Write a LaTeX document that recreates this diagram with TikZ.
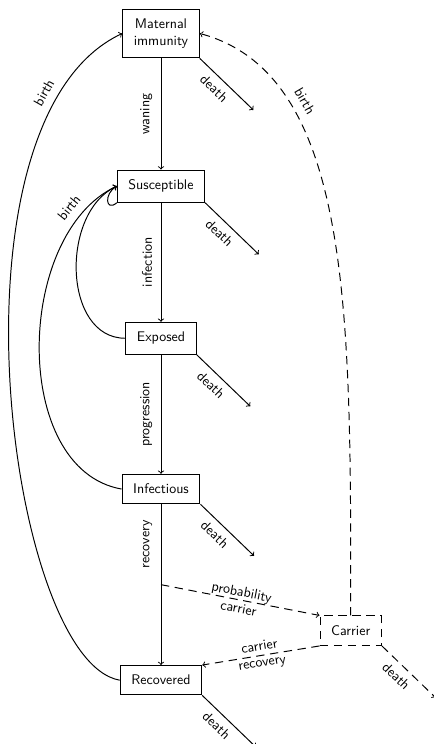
\documentclass[tikz,border=0pt]{standalone}
\usetikzlibrary{positioning}
\begin{document}
\begin{tikzpicture}[node distance=3cm, line width=0.7pt, every node/.style={font=\sffamily},
  box/.style={draw, align=center, inner xsep=8pt, inner ysep=7pt},
  dashline/.style={dash pattern=on 6pt off 4pt},
  rate/.style={inner sep=6pt},
  dead/.style={inner sep=4.5pt, pos=0.42, below, sloped}]
\useasboundingbox (-4.056,0.844) rectangle (6.853,-17.90);
\node[box] (mat) at (0,0) {Maternal\\immunity};
\node[box, below=2.8cm of mat] (sus) {Susceptible};
\node[box, below=of sus] (exp) {Exposed};
\node[box, below=of exp] (inf) {Infectious};
\node[box, below=4.05cm of inf] (rec) {Recovered};
\node[box, dashline, below right=2.8cm and 3cm of inf] (car) {Carrier};
% where the dead go
\coordinate[below right=1.3cm and 1.35cm of mat.south east] (matdead);
\coordinate[below right=1.3cm and 1.35cm of sus.south east] (susdead);
\coordinate[below right=1.3cm and 1.35cm of exp.south east] (expdead);
\coordinate[below right=1.3cm and 1.35cm of inf.south east] (infdead);
\coordinate[below right=1.3cm and 1.35cm of rec.south east] (recdead);
\coordinate[below right=1.3cm and 1.35cm of car.south east] (cardead);
% main chain
\draw[->] (mat) -- node[rate, midway, anchor=south, rotate=90]{waning} (sus);
\draw[->] (sus) -- node[rate, midway, anchor=south, rotate=90]{infection} (exp);
\draw[->] (exp) -- node[rate, midway, anchor=south, rotate=90]{progression} (inf);
\draw[->] (inf) -- node[rate, pos=0.25, anchor=south, rotate=90]{recovery} coordinate[midway] (split) (rec);
% carriers
\draw[->, dashline] (split) -- node[midway, sloped, align=center]{probability\\carrier} (car.north west);
\draw[->, dashline] (car.south west) -- node[midway, sloped, align=center]{carrier\\recovery} (rec.north east);
% births
\draw[->] (rec.west) to[out=170, in=205, out looseness=0.45, in looseness=0.8] node[rate, pos=0.85, above, sloped]{birth} (mat.west);
\draw[->] (exp.west) to[out=180, in=205, looseness=1.05] (sus.west);
\draw[->] (inf.west) to[out=170, in=205, looseness=0.95] node[rate, pos=0.86, above, sloped]{birth} (sus.west);
\draw[->] (sus.south west) to[out=220, in=210, looseness=2.3] (sus.west);
\draw[->, dashline] (car.north) .. controls +(90:7.5) and +(-15:4) .. node[rate, pos=0.73, above, sloped]{birth} (mat.east);
% deaths
\draw[->] (mat.south east) -- node[dead]{death} (matdead);
\draw[->] (sus.south east) -- node[dead]{death} (susdead);
\draw[->] (exp.south east) -- node[dead]{death} (expdead);
\draw[->] (inf.south east) -- node[dead]{death} (infdead);
\draw[->] (rec.south east) -- node[dead]{death} (recdead);
\draw[->, dashline] (car.south east) -- node[dead]{death} (cardead);
\end{tikzpicture}
\end{document}
